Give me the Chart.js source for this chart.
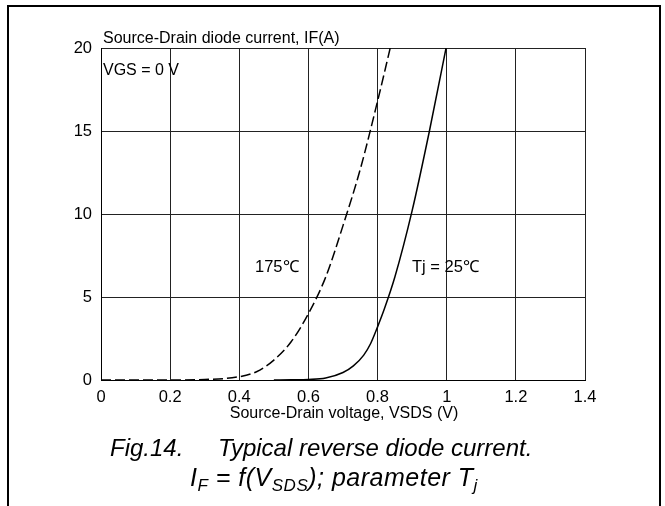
<!DOCTYPE html>
<html>
<head>
<meta charset="utf-8">
<script src="https://cdn.jsdelivr.net/npm/chart.js@4.4.0/dist/chart.umd.min.js"></script>
<style>
  html, body { margin: 0; padding: 0; background: #fff; }
  canvas { display: block; }
</style>
</head>
<body>
<canvas id="diode-chart" width="665" height="506"></canvas>
<script>
// values
var vHot = [0, 0.2, 0.3, 0.4, 0.45, 0.5, 0.55, 0.6, 0.65, 0.7, 0.75, 0.8, 0.84];
var iHot = [0, 0, 0.03, 0.2, 0.5, 1.2, 2.3, 4.0, 6.2, 9.3, 12.7, 16.8, 20.3];
var vCold = [0.5, 0.55, 0.6, 0.65, 0.7, 0.73, 0.76, 0.78, 0.8, 0.82, 0.85, 0.9, 0.95, 1.0];
var iCold = [0, 0.01, 0.03, 0.12, 0.45, 0.85, 1.5, 2.2, 3.2, 4.3, 6.2, 10.2, 15, 20.2];
var xTicks = [0, 0.2, 0.4, 0.6, 0.8, 1, 1.2, 1.4];
var yTicks = [0, 5, 10, 15, 20];

var FONT = "'Liberation Sans', Arial, sans-serif";

function toPoints(xs, ys) {
    var pts = [];
    xs.forEach(function(x, i) {
        pts.push({ x: x, y: ys[i] });
    });
    return pts;
}

var textPlugin = {
    id: 'figText',
    afterDraw: function(chart) {
        var ctx = chart.ctx;
        ctx.save();
        // outer frame
        ctx.strokeStyle = '#000';
        ctx.lineWidth = 2;
        ctx.strokeRect(8, 6, 652, 520);

        ctx.fillStyle = '#000';
        ctx.font = '16px ' + FONT;
        ctx.textBaseline = 'alphabetic';
        ctx.textAlign = 'left';
        ctx.fillText('Source-Drain diode current, IF(A)', 103, 43);
        ctx.fillText('VGS = 0 V', 103, 75);
        ctx.font = '16.5px ' + FONT;
        ctx.fillText('175\u2103', 255, 272);
        ctx.fillText('Tj = 25\u2103', 412, 272);

        ctx.font = '16px ' + FONT;
        ctx.textAlign = 'center';
        ctx.fillText('Source-Drain voltage, VSDS (V)', 344, 418);

        // caption
        ctx.textAlign = 'left';
        ctx.font = 'italic 24px ' + FONT;
        ctx.fillText('Fig.14.', 110, 456);
        ctx.fillText('Typical reverse diode current.', 218, 456);
        var big = 'italic 25px ' + FONT;
        var small = 'italic 17px ' + FONT;
        var parts = [
            ['I', big, 0], ['F', small, 5], [' = f(V', big, 0], ['SDS', small, 5],
            ['); parameter T', big, 0], ['j', small, 5]
        ];
        var x = 190;
        ctx.letterSpacing = '0.5px';
        parts.forEach(function(p) {
            ctx.font = p[1];
            ctx.fillText(p[0], x, 486 + p[2]);
            x += ctx.measureText(p[0]).width;
        });
        ctx.restore();
    }
};

var ctx = document.getElementById('diode-chart').getContext('2d');
new Chart(ctx, {
    type: 'scatter',
    data: {
        datasets: [{
            label: '175C',
            data: toPoints(vHot, iHot),
            showLine: true,
            borderColor: '#000',
            borderWidth: 1.5,
            borderDash: [10, 4],
            pointRadius: 0,
            cubicInterpolationMode: 'monotone',
            fill: false
        }, {
            label: '25C',
            data: toPoints(vCold, iCold),
            showLine: true,
            borderColor: '#000',
            borderWidth: 1.5,
            pointRadius: 0,
            cubicInterpolationMode: 'monotone',
            fill: false
        }]
    },
    options: {
        responsive: false,
        animation: false,
        devicePixelRatio: 1,
        layout: { padding: { left: 0, top: 48, right: 80, bottom: 96 } },
        plugins: {
            legend: { display: false },
            tooltip: { enabled: false }
        },
        scales: {
            x: {
                type: 'linear',
                min: 0,
                max: 1.4,
                afterBuildTicks: function(scale) {
                    scale.ticks = xTicks.map(function(v) { return { value: v }; });
                },
                afterFit: function(scale) { scale.height = 30; },
                ticks: {
                    color: '#000',
                    font: { family: FONT, size: 16.5 },
                    padding: 8,
                    maxRotation: 0,
                    autoSkip: false,
                    callback: function(v) { return String(v); }
                },
                grid: { color: '#222', lineWidth: 1, drawTicks: false },
                border: { color: '#000', width: 1 }
            },
            y: {
                type: 'linear',
                min: 0,
                max: 20,
                afterBuildTicks: function(scale) {
                    scale.ticks = yTicks.map(function(v) { return { value: v }; });
                },
                afterFit: function(scale) { scale.width = 101; },
                ticks: {
                    color: '#000',
                    font: { family: FONT, size: 16.5 },
                    padding: 9,
                    autoSkip: false
                },
                grid: { color: '#222', lineWidth: 1, drawTicks: false },
                border: { color: '#000', width: 1 }
            }
        }
    },
    plugins: [textPlugin]
});
</script>
</body>
</html>
